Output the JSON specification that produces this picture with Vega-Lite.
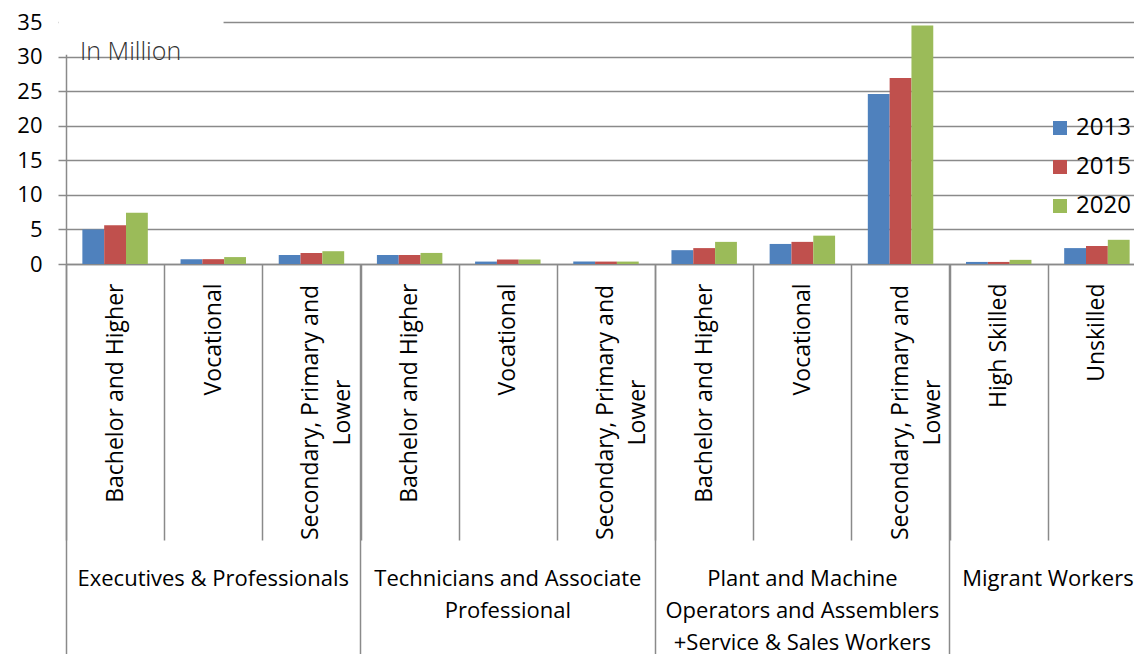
{
  "$schema": "https://vega.github.io/schema/vega-lite/v6.json",
  "width": 1068,
  "height": 242,
  "autosize": {"type": "none"},
  "padding": {"left": 66, "top": 22, "right": 0, "bottom": 390},
  "background": "white",
  "config": {
    "font": "Open Sans",
    "view": {"stroke": null}
  },
  "data": {
    "values": [
      {"category": "Executives & Professionals|Bachelor and Higher", "year": "2013", "value": 5.0},
      {"category": "Executives & Professionals|Bachelor and Higher", "year": "2015", "value": 5.6},
      {"category": "Executives & Professionals|Bachelor and Higher", "year": "2020", "value": 7.4},
      {"category": "Executives & Professionals|Vocational", "year": "2013", "value": 0.7},
      {"category": "Executives & Professionals|Vocational", "year": "2015", "value": 0.7},
      {"category": "Executives & Professionals|Vocational", "year": "2020", "value": 1.0},
      {"category": "Executives & Professionals|Secondary, Primary and Lower", "year": "2013", "value": 1.3},
      {"category": "Executives & Professionals|Secondary, Primary and Lower", "year": "2015", "value": 1.6},
      {"category": "Executives & Professionals|Secondary, Primary and Lower", "year": "2020", "value": 1.85},
      {"category": "Technicians and Associate Professional|Bachelor and Higher", "year": "2013", "value": 1.3},
      {"category": "Technicians and Associate Professional|Bachelor and Higher", "year": "2015", "value": 1.3},
      {"category": "Technicians and Associate Professional|Bachelor and Higher", "year": "2020", "value": 1.6},
      {"category": "Technicians and Associate Professional|Vocational", "year": "2013", "value": 0.35},
      {"category": "Technicians and Associate Professional|Vocational", "year": "2015", "value": 0.65},
      {"category": "Technicians and Associate Professional|Vocational", "year": "2020", "value": 0.65},
      {"category": "Technicians and Associate Professional|Secondary, Primary and Lower", "year": "2013", "value": 0.35},
      {"category": "Technicians and Associate Professional|Secondary, Primary and Lower", "year": "2015", "value": 0.35},
      {"category": "Technicians and Associate Professional|Secondary, Primary and Lower", "year": "2020", "value": 0.35},
      {"category": "Plant and Machine Operators and Assemblers +Service & Sales Workers|Bachelor and Higher", "year": "2013", "value": 2.0},
      {"category": "Plant and Machine Operators and Assemblers +Service & Sales Workers|Bachelor and Higher", "year": "2015", "value": 2.3},
      {"category": "Plant and Machine Operators and Assemblers +Service & Sales Workers|Bachelor and Higher", "year": "2020", "value": 3.2},
      {"category": "Plant and Machine Operators and Assemblers +Service & Sales Workers|Vocational", "year": "2013", "value": 2.9},
      {"category": "Plant and Machine Operators and Assemblers +Service & Sales Workers|Vocational", "year": "2015", "value": 3.2},
      {"category": "Plant and Machine Operators and Assemblers +Service & Sales Workers|Vocational", "year": "2020", "value": 4.1},
      {"category": "Plant and Machine Operators and Assemblers +Service & Sales Workers|Secondary, Primary and Lower", "year": "2013", "value": 24.6},
      {"category": "Plant and Machine Operators and Assemblers +Service & Sales Workers|Secondary, Primary and Lower", "year": "2015", "value": 26.9},
      {"category": "Plant and Machine Operators and Assemblers +Service & Sales Workers|Secondary, Primary and Lower", "year": "2020", "value": 34.5},
      {"category": "Migrant Workers|High Skilled", "year": "2013", "value": 0.3},
      {"category": "Migrant Workers|High Skilled", "year": "2015", "value": 0.3},
      {"category": "Migrant Workers|High Skilled", "year": "2020", "value": 0.6},
      {"category": "Migrant Workers|Unskilled", "year": "2013", "value": 2.3},
      {"category": "Migrant Workers|Unskilled", "year": "2015", "value": 2.6},
      {"category": "Migrant Workers|Unskilled", "year": "2020", "value": 3.5}
    ]
  },
  "layer": [
    {
      "mark": {"type": "bar"},
      "encoding": {
        "x": {
          "field": "category",
          "type": "nominal",
          "sort": null,
          "scale": {"range": [0, 1080], "paddingInner": 0, "paddingOuter": 0},
          "axis": {
            "orient": "bottom",
            "title": null,
            "tickBand": "extent",
            "tickSize": 276,
            "tickColor": "#8a8a8a",
            "tickWidth": 1.5,
            "domainColor": "#8a8a8a",
            "domainWidth": 1.5,
            "grid": false,
            "labelAngle": 270,
            "labelAlign": "right",
            "labelBaseline": "middle",
            "labelFont": "Open Sans",
            "labelFontSize": 23,
            "labelColor": "black",
            "labelLimit": 1000,
            "labelOverlap": false,
            "labelPadding": -257,
            "labelExpr": "split(datum.value, '|')[1] == 'Secondary, Primary and Lower' ? '' : split(datum.value, '|')[1]"
          }
        },
        "xOffset": {
          "field": "year",
          "type": "nominal",
          "scale": {"paddingInner": 0, "paddingOuter": 0.75}
        },
        "y": {
          "field": "value",
          "type": "quantitative",
          "scale": {"domain": [0, 35], "nice": false},
          "axis": {
            "title": null,
            "values": [0, 5, 10, 15, 20, 25, 30, 35],
            "grid": true,
            "gridColor": "#8a8a8a",
            "gridWidth": 1.5,
            "domainColor": "#8a8a8a",
            "domainWidth": 1.5,
            "tickColor": "#8a8a8a",
            "tickWidth": 1.5,
            "tickSize": 8,
            "labelPadding": 16,
            "labelFont": "Open Sans",
            "labelFontSize": 22,
            "labelColor": "black"
          }
        },
        "color": {
          "field": "year",
          "type": "nominal",
          "scale": {"range": ["#4F81BD", "#C0504D", "#9BBB59"]},
          "legend": {
            "title": null,
            "orient": "none",
            "legendX": 982,
            "legendY": 94,
            "symbolType": "square",
            "symbolSize": 196,
            "symbolStrokeWidth": 0,
            "labelFont": "Open Sans",
            "labelFontSize": 24,
            "labelColor": "black",
            "labelOffset": 4,
            "rowPadding": 15
          }
        }
      }
    },
    {
      "data": {"values": [{"note": "In Million"}]},
      "mark": {"type": "bar", "color": "white", "width": {"band": 1.68}, "xOffset": 26},
      "encoding": {
        "x": {
          "datum": "Executives & Professionals|Bachelor and Higher",
          "axis": {
            "orient": "bottom",
            "title": null,
            "values": [
              "Executives & Professionals|Secondary, Primary and Lower",
              "Technicians and Associate Professional|Secondary, Primary and Lower",
              "Plant and Machine Operators and Assemblers +Service & Sales Workers|Secondary, Primary and Lower"
            ],
            "domain": false,
            "ticks": false,
            "grid": false,
            "labelAngle": 270,
            "labelAlign": "center",
            "labelBaseline": "middle",
            "labelFont": "Open Sans",
            "labelFontSize": 23,
            "labelColor": "black",
            "labelLimit": 1000,
            "labelOverlap": false,
            "labelLineHeight": 32,
            "labelPadding": 148,
            "labelExpr": "['Secondary, Primary and', 'Lower']"
          }
        },
        "y": {
          "datum": 36.5,
          "axis": {
            "title": null,
            "values": [0, 5, 10, 15, 20, 25, 30, 35],
            "grid": true,
            "gridColor": "#8a8a8a",
            "gridWidth": 1.5,
            "domainColor": "#8a8a8a",
            "domainWidth": 1.5,
            "tickColor": "#8a8a8a",
            "tickWidth": 1.5,
            "tickSize": 8,
            "labelPadding": 16,
            "labelFont": "Open Sans",
            "labelFontSize": 22,
            "labelColor": "black"
          }
        },
        "y2": {"datum": 30.25}
      }
    },
    {
      "data": {"values": [{"note": "In Million"}]},
      "mark": {"type": "text", "align": "left", "baseline": "alphabetic", "dx": 14, "fontSize": 25, "fontWeight": 300, "color": "#333333", "font": "Open Sans"},
      "encoding": {
        "x": {
          "datum": "Executives & Professionals|Bachelor and Higher",
          "bandPosition": 0,
          "axis": {
            "orient": "bottom",
            "title": null,
            "bandPosition": 0,
            "values": [
              "Executives & Professionals|Bachelor and Higher",
              "Executives & Professionals|Vocational",
              "Technicians and Associate Professional|Bachelor and Higher",
              "Technicians and Associate Professional|Vocational",
              "Plant and Machine Operators and Assemblers +Service & Sales Workers|Bachelor and Higher",
              "Plant and Machine Operators and Assemblers +Service & Sales Workers|Vocational",
              "Migrant Workers|High Skilled",
              "Migrant Workers|Unskilled"
            ],
            "domain": false,
            "grid": false,
            "tickSize": 390,
            "tickColor": "#8a8a8a",
            "tickWidth": 1.5,
            "tickOpacity": {"condition": {"test": "indexof(datum.value, 'Bachelor') >= 0 || indexof(datum.value, 'High Skilled') >= 0", "value": 1}, "value": 0},
            "labelAngle": 0,
            "labelAlign": "center",
            "labelBaseline": "top",
            "labelFont": "Open Sans",
            "labelFontSize": 22,
            "labelColor": "black",
            "labelLimit": 1000,
            "labelOverlap": false,
            "labelLineHeight": 32,
            "labelPadding": -86,
            "labelOffset": {"condition": {"test": "datum.value == 'Migrant Workers|Unskilled'", "value": -49}, "value": 0},
            "labelExpr": "datum.value == 'Executives & Professionals|Vocational' ? 'Executives & Professionals' : datum.value == 'Technicians and Associate Professional|Vocational' ? ['Technicians and Associate', 'Professional'] : datum.value == 'Plant and Machine Operators and Assemblers +Service & Sales Workers|Vocational' ? ['Plant and Machine', 'Operators and Assemblers', '+Service & Sales Workers'] : datum.value == 'Migrant Workers|Unskilled' ? 'Migrant Workers' : ''"
          }
        },
        "y": {
          "datum": 29.45,
          "axis": {
            "title": null,
            "values": [0, 5, 10, 15, 20, 25, 30, 35],
            "grid": true,
            "gridColor": "#8a8a8a",
            "gridWidth": 1.5,
            "domainColor": "#8a8a8a",
            "domainWidth": 1.5,
            "tickColor": "#8a8a8a",
            "tickWidth": 1.5,
            "tickSize": 8,
            "labelPadding": 16,
            "labelFont": "Open Sans",
            "labelFontSize": 22,
            "labelColor": "black"
          }
        },
        "text": {"field": "note"}
      }
    }
  ],
  "resolve": {"axis": {"x": "independent"}}
}
